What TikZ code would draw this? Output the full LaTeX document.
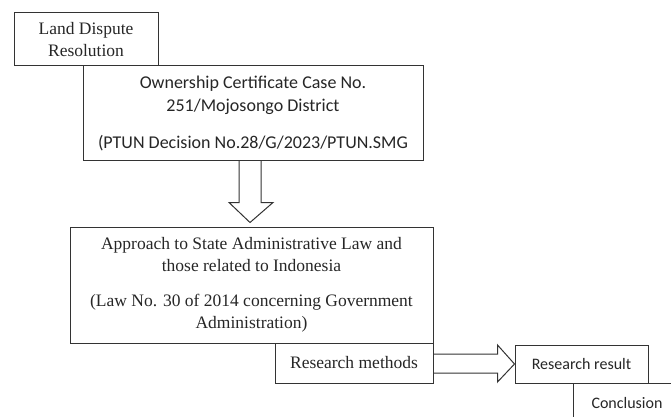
\documentclass[tikz,border=0pt]{standalone}
\usepackage{fontspec}
\setmainfont{Liberation Serif}
\newfontfamily\calibri{Carlito}
\usetikzlibrary{calc}

\begin{document}
\begin{tikzpicture}[x=1pt, y=-1pt, line width=1pt, draw=black!80,
  box/.style={draw=black!80, inner sep=0pt, align=center, text=black!85},
  serifbox/.style={box, font=\fontsize{17.5}{22}\selectfont},
  sansbox/.style={box, font=\calibri\fontsize{18}{23}\selectfont},
  smallsans/.style={box, font=\calibri\fontsize{16}{20}\selectfont},
  hollow/.style={draw=black!80, line join=miter}]

\useasboundingbox (0,0) rectangle (671,417);

\node[serifbox, minimum width=144, minimum height=53] (dispute) at (86,39.5)
  {Land Dispute\\Resolution};
\node[sansbox, minimum width=340, minimum height=94] (case) at (253,113)
  {Ownership Certificate Case No.\\251/Mojosongo District\\[14pt]
   (PTUN Decision No.28/G/2023/PTUN.SMG};
\node[serifbox, minimum width=363, minimum height=116] (approach) at (251.5,285)
  {Approach to State Administrative Law and\\those related to Indonesia\\[13pt]
   (Law No. 30 of 2014 concerning Government\\Administration)};
\node[serifbox, minimum width=158, minimum height=40] (methods) at (354,363)
  {Research methods};
\node[smallsans, minimum width=133, minimum height=38] (result) at (581.5,364)
  {Research result};
\begin{scope}
\clip (0,0) rectangle (671,417);
\node[smallsans, minimum width=108, minimum height=40] (conclusion) at (627,403)
  {Conclusion};
\end{scope}

% hollow arrows
\draw[hollow] ($(case.south)+(-14,0)$) -- ++(0,42) -- ++(-10,0)
  -- ($(approach.north)+(-1.5,-4)$) -- ($(case.south)+(20,42)$) -- ++(-12,0)
  -- ($(case.south)+(8,0)$);
\draw[hollow] ($(methods.east)+(0,-9)$) -- ++(64,0) -- ++(0,-9)
  -- (result.west) -- ($(methods.east)+(64,19)$) -- ++(0,-9)
  -- ($(methods.east)+(0,10)$);

\end{tikzpicture}
\end{document}
